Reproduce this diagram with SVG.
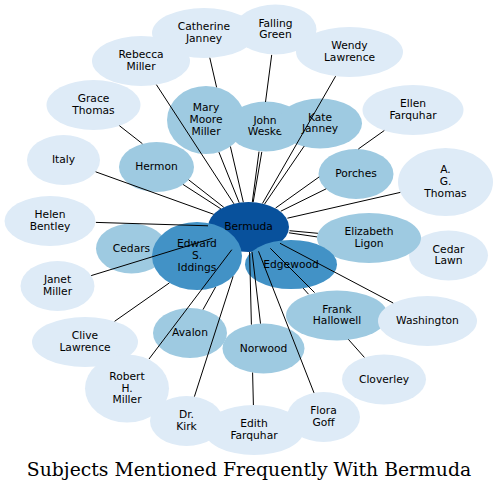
<svg xmlns="http://www.w3.org/2000/svg" width="498" height="492" viewBox="0 0 498 492">
<style>
.l{fill:#deebf7}
.m{fill:#9ecae1}
.d{fill:#4292c6}
.x{fill:#08519c}
.n text{font-family:"DejaVu Sans","Liberation Sans",sans-serif;font-size:10.7px;fill:#000;text-anchor:middle}
#connectors path{fill:none;stroke:#000;stroke-width:1}
.title{font-family:"DejaVu Serif","Liberation Serif",serif;font-size:18.8px;fill:#000;text-anchor:middle}
</style>
<rect width="498" height="492" fill="#fff"/>
<g id="nodes">
<g id="n-catherine-janney" class="n"><ellipse class="l" cx="204" cy="33" rx="52" ry="25"/><text x="204" y="30.1">Catherine<tspan x="204" y="41.9">Janney</tspan></text></g>
<g id="n-falling-green" class="n"><ellipse class="l" cx="275.5" cy="29.5" rx="41" ry="25"/><text x="275.5" y="26.6">Falling<tspan x="275.5" y="38.4">Green</tspan></text></g>
<g id="n-wendy-lawrence" class="n"><ellipse class="l" cx="349.5" cy="52" rx="53.5" ry="25"/><text x="349.5" y="49.1">Wendy<tspan x="349.5" y="60.9">Lawrence</tspan></text></g>
<g id="n-rebecca-miller" class="n"><ellipse class="l" cx="141" cy="61" rx="49" ry="25"/><text x="141" y="58.1">Rebecca<tspan x="141" y="69.9">Miller</tspan></text></g>
<g id="n-grace-thomas" class="n"><ellipse class="l" cx="93.5" cy="105" rx="47" ry="25"/><text x="93.5" y="102.1">Grace<tspan x="93.5" y="113.9">Thomas</tspan></text></g>
<g id="n-ellen-farquhar" class="n"><ellipse class="l" cx="413" cy="110" rx="50.5" ry="25"/><text x="413" y="107.1">Ellen<tspan x="413" y="118.9">Farquhar</tspan></text></g>
<g id="n-mary-moore-miller" class="n"><ellipse class="m" cx="206" cy="120" rx="39" ry="34"/><text x="206" y="111.2">Mary<tspan x="206" y="123">Moore</tspan><tspan x="206" y="134.8">Miller</tspan></text></g>
<g id="n-john-weske" class="n"><ellipse class="m" cx="266" cy="126.5" rx="39" ry="25"/><text x="265" y="123.6">John<tspan x="265" y="135.4">Weske</tspan></text></g>
<g id="n-kate-janney" class="n"><ellipse class="m" cx="320" cy="123.5" rx="42" ry="25"/><text x="320" y="120.6">Kate<tspan x="320" y="132.4">Janney</tspan></text></g>
<g id="n-italy" class="n"><ellipse class="l" cx="63.5" cy="160" rx="36.5" ry="25"/><text x="63.5" y="163">Italy</text></g>
<g id="n-hermon" class="n"><ellipse class="m" cx="156.5" cy="167" rx="37.5" ry="25"/><text x="156.5" y="170">Hermon</text></g>
<g id="n-porches" class="n"><ellipse class="m" cx="356" cy="174" rx="37.5" ry="25"/><text x="356" y="177">Porches</text></g>
<g id="n-a-g-thomas" class="n"><ellipse class="l" cx="445.5" cy="182" rx="47.5" ry="34"/><text x="445.5" y="173.2">A.<tspan x="445.5" y="185">G.</tspan><tspan x="445.5" y="196.8">Thomas</tspan></text></g>
<g id="n-helen-bentley" class="n"><ellipse class="l" cx="50" cy="221" rx="45.5" ry="25"/><text x="50" y="218.1">Helen<tspan x="50" y="229.9">Bentley</tspan></text></g>
<g id="n-cedar-lawn" class="n"><ellipse class="l" cx="448.5" cy="255.5" rx="39.5" ry="25"/><text x="448.5" y="252.6">Cedar<tspan x="448.5" y="264.4">Lawn</tspan></text></g>
<g id="n-elizabeth-ligon" class="n"><ellipse class="m" cx="369" cy="238" rx="52" ry="25"/><text x="369" y="235.1">Elizabeth<tspan x="369" y="246.9">Ligon</tspan></text></g>
<g id="n-bermuda" class="n"><ellipse class="x" cx="248.5" cy="227" rx="40.5" ry="25"/><text x="248.5" y="230">Bermuda</text></g>
<g id="n-cedars" class="n"><ellipse class="m" cx="131.5" cy="248.5" rx="35.5" ry="25"/><text x="131.5" y="251.5">Cedars</text></g>
<g id="n-edward-s-iddings" class="n"><ellipse class="d" cx="197" cy="256" rx="45" ry="34"/><text x="197" y="247.2">Edward<tspan x="197" y="259">S.</tspan><tspan x="197" y="270.8">Iddings</tspan></text></g>
<g id="n-edgewood" class="n"><ellipse class="d" cx="291" cy="264.5" rx="46" ry="24.5"/><text x="291" y="267.5">Edgewood</text></g>
<g id="n-janet-miller" class="n"><ellipse class="l" cx="57.5" cy="286" rx="37" ry="25"/><text x="57.5" y="283.1">Janet<tspan x="57.5" y="294.9">Miller</tspan></text></g>
<g id="n-frank-hallowell" class="n"><ellipse class="m" cx="337" cy="315.5" rx="51" ry="25"/><text x="337" y="312.6">Frank<tspan x="337" y="324.4">Hallowell</tspan></text></g>
<g id="n-washington" class="n"><ellipse class="l" cx="427.5" cy="321" rx="49.5" ry="25"/><text x="427.5" y="324">Washington</text></g>
<g id="n-clive-lawrence" class="n"><ellipse class="l" cx="85" cy="342" rx="53" ry="25"/><text x="85" y="339.1">Clive<tspan x="85" y="350.9">Lawrence</tspan></text></g>
<g id="n-avalon" class="n"><ellipse class="m" cx="190" cy="333" rx="37" ry="25"/><text x="190" y="336">Avalon</text></g>
<g id="n-norwood" class="n"><ellipse class="m" cx="263.5" cy="348.5" rx="41" ry="25"/><text x="263.5" y="351.5">Norwood</text></g>
<g id="n-cloverley" class="n"><ellipse class="l" cx="384" cy="379.5" rx="42" ry="25"/><text x="384" y="382.5">Cloverley</text></g>
<g id="n-robert-h-miller" class="n"><ellipse class="l" cx="127" cy="388.5" rx="42" ry="34"/><text x="127" y="379.7">Robert<tspan x="127" y="391.5">H.</tspan><tspan x="127" y="403.3">Miller</tspan></text></g>
<g id="n-dr-kirk" class="n"><ellipse class="l" cx="186.5" cy="421" rx="36.5" ry="25"/><text x="186.5" y="418.1">Dr.<tspan x="186.5" y="429.9">Kirk</tspan></text></g>
<g id="n-edith-farquhar" class="n"><ellipse class="l" cx="254" cy="430" rx="50" ry="25"/><text x="254" y="427.1">Edith<tspan x="254" y="438.9">Farquhar</tspan></text></g>
<g id="n-flora-goff" class="n"><ellipse class="l" cx="323.5" cy="417" rx="36.5" ry="25"/><text x="323.5" y="414.1">Flora<tspan x="323.5" y="425.9">Goff</tspan></text></g>
</g>
<g id="connectors">
<path id="e-catherine-janney" d="M209.8,57.8L216.6,87.3M230.4,146.5L243.3,202.2"/>
<path id="e-falling-green" d="M271.7,54.9L265.5,102M259,151.6L252.3,202.1"/>
<path id="e-wendy-lawrence" d="M335.6,76.2L262.5,203.4"/>
<path id="e-rebecca-miller" d="M156.4,84.7L233.9,203.8"/>
<path id="e-grace-thomas" d="M119.4,125.7L142.4,143.7M188.6,179.8L223.8,207.3"/>
<path id="e-ellen-farquhar" d="M384.3,130.5L358.3,149M319.2,176.9L275.6,208"/>
<path id="e-mary-moore-miller" d="M218.9,152.1L239.2,202.7"/>
<path id="e-john-weske" d="M261.8,151.9L253.2,202.1"/>
<path id="e-kate-janney" d="M304.2,146.1L264.6,204"/>
<path id="e-italy" d="M95.6,171.8L213.7,214.3"/>
<path id="e-hermon" d="M183.1,184.5L220.8,208.8"/>
<path id="e-porches" d="M326.2,188.8L280.8,211.2"/>
<path id="e-a-g-thomas" d="M400.3,192.4L287.4,218.2"/>
<path id="e-helen-bentley" d="M95.9,222.4L208,225.8"/>
<path id="e-cedar-lawn" d="M317,236.9L288.9,232.8"/>
<path id="e-elizabeth-ligon" d="M317.9,233.3L289.5,230.7"/>
<path id="e-janet-miller" d="M91.2,275.6L212.4,238.3"/>
<path id="e-frank-hallowell" d="M314.6,292.6L270.3,248.3"/>
<path id="e-washington" d="M393.2,303L280,243.3"/>
<path id="e-clive-lawrence" d="M114.6,321.3L169.4,282.9"/>
<path id="e-avalon" d="M203,309.6L215.6,287"/>
<path id="e-norwood" d="M260.5,323.6L252,251.9"/>
<path id="e-cloverley" d="M364.4,357.4L348.4,339.4M308.5,294.2L303.1,288.1"/>
<path id="e-robert-h-miller" d="M149,359L231.8,249.7"/>
<path id="e-dr-kirk" d="M194.4,396.6L233.1,276.3"/>
<path id="e-edith-farquhar" d="M253.4,405L252.6,372.6M251.4,324.6L249.6,252"/>
<path id="e-flora-goff" d="M314,392.9L258.5,251.3"/>
</g>
<text class="title" x="249" y="476">Subjects Mentioned Frequently With Bermuda</text>
</svg>
